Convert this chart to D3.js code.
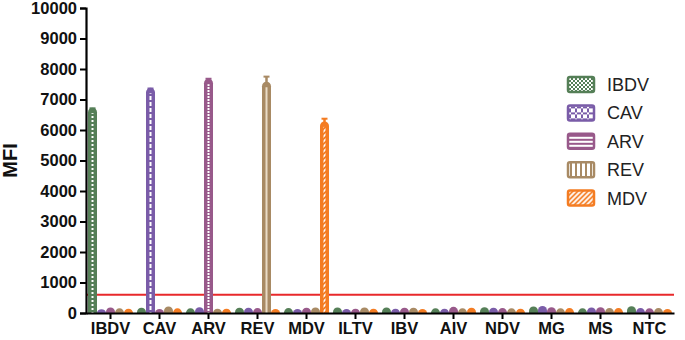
<!DOCTYPE html>
<html>
<head>
<meta charset="utf-8">
<script src="https://cdn.jsdelivr.net/npm/d3@7"></script>
<style>
  body { margin: 0; background: #fff; }
  text { font-family: "Liberation Sans", Arial, sans-serif; }
</style>
</head>
<body>
<div id="chart"></div>
<script>
const groups = ["IBDV", "CAV", "ARV", "REV", "MDV", "ILTV", "IBV", "AIV", "NDV", "MG", "MS", "NTC"];
const series = ["IBDV", "CAV", "ARV", "REV", "MDV"];

// mean MFI per sample group, one array per detection bead
const ibdvVals = [6650, 90, 70, 90, 80, 100, 100, 70, 110, 130, 70, 140];
const cavVals  = [40, 7300, 110, 90, 50, 50, 60, 60, 90, 150, 100, 80];
const arvVals  = [100, 50, 7600, 80, 90, 60, 90, 120, 80, 110, 110, 70];
const revVals  = [70, 130, 60, 7500, 100, 100, 90, 70, 70, 70, 80, 80];
const mdvVals  = [60, 70, 60, 50, 6200, 60, 50, 90, 60, 80, 80, 50];
const errVals  = {IBDV: 60, CAV: 60, ARV: 80, REV: 250, MDV: 170};
const cutoff = 600;
const yTicks = [0, 1000, 2000, 3000, 4000, 5000, 6000, 7000, 8000, 9000, 10000];

const values = {IBDV: ibdvVals, CAV: cavVals, ARV: arvVals, REV: revVals, MDV: mdvVals};
const colors = {IBDV: "#557f57", CAV: "#7a5ca8", ARV: "#98598a", REV: "#a88a64", MDV: "#f47c22"};

const width = 685, height = 340;
const margin = {left: 86, right: 11, top: 8, bottom: 27};

const svg = d3.select("#chart").append("svg")
    .attr("width", width)
    .attr("height", height);

const defs = svg.append("defs");

// fill patterns
const pat = (id, w, h, color, draw) => {
    const p = defs.append("pattern")
        .attr("id", id)
        .attr("patternUnits", "userSpaceOnUse")
        .attr("width", w).attr("height", h);
    p.append("rect").attr("width", w).attr("height", h).attr("fill", color);
    draw(p);
};
pat("p-IBDV", 2, 4, colors.IBDV, p => {
    p.append("rect").attr("width", 2).attr("height", 2).attr("fill", "#fff");
});
pat("p-CAV", 6, 6, colors.CAV, p => {
    p.append("rect").attr("x", 0).attr("y", 0).attr("width", 6).attr("height", 4).attr("fill", "#fff");
});
pat("p-ARV", 4, 3, colors.ARV, p => {
    p.append("rect").attr("width", 4).attr("height", 2).attr("fill", "#fff");
});
pat("p-REV", 6, 4, colors.REV, p => {
    p.append("rect").attr("width", 6).attr("height", 4).attr("fill", "#e9dcc7");
});
pat("p-MDV", 5, 5, colors.MDV, p => {
    p.append("path").attr("d", "M-1,6 L6,-1 M4,6 L6,4 M-1,1 L1,-1")
        .attr("stroke", "#fff").attr("stroke-width", 1.8);
});

// legend patterns (larger)
pat("l-IBDV", 4, 4, colors.IBDV, p => {
    p.append("rect").attr("width", 2).attr("height", 2).attr("fill", "#fff");
    p.append("rect").attr("x", 2).attr("y", 2).attr("width", 2).attr("height", 2).attr("fill", "#fff");
});
pat("l-CAV", 6, 6, colors.CAV, p => {
    p.append("rect").attr("x", 0).attr("y", 0).attr("width", 2).attr("height", 2).attr("fill", "#fff");
    p.append("rect").attr("x", 4).attr("y", 0).attr("width", 2).attr("height", 2).attr("fill", "#fff");
    p.append("rect").attr("x", 2).attr("y", 2).attr("width", 2).attr("height", 2).attr("fill", "#fff");
    p.append("rect").attr("x", 0).attr("y", 4).attr("width", 2).attr("height", 2).attr("fill", "#fff");
    p.append("rect").attr("x", 4).attr("y", 4).attr("width", 2).attr("height", 2).attr("fill", "#fff");
});
pat("l-ARV", 4, 4, colors.ARV, p => {
    p.append("rect").attr("width", 4).attr("height", 2).attr("fill", "#fff");
});
pat("l-REV", 5, 4, colors.REV, p => {
    p.append("rect").attr("width", 3).attr("height", 4).attr("fill", "#fff");
});
pat("l-MDV", 5, 5, colors.MDV, p => {
    p.append("path").attr("d", "M-1,6 L6,-1 M4,6 L6,4 M-1,1 L1,-1")
        .attr("stroke", "#fff").attr("stroke-width", 1.8);
});

const x0 = d3.scaleBand()
    .domain(groups)
    .range([margin.left, width - margin.right]);

const x1 = d3.scaleBand()
    .domain(series)
    .range([2, x0.bandwidth() - 2]);

const y = d3.scaleLinear()
    .domain([0, 10000])
    .range([height - margin.bottom, margin.top]);

const base = y(0);

// cut-off line
svg.append("line")
    .attr("x1", margin.left).attr("x2", width - margin.right)
    .attr("y1", y(cutoff)).attr("y2", y(cutoff))
    .attr("stroke", "#e8292b")
    .attr("stroke-width", 2);

const bars = [];
groups.forEach((g, i) => {
    series.forEach(s => {
        bars.push({group: g, series: s, value: values[s][i], own: g === s});
    });
});

const barW = x1.bandwidth();

const barPath = (x, top, w, bottom) => {
    const r = Math.min(w / 2, bottom - top);
    return `M${x},${bottom} L${x},${top + r} A${w / 2},${r} 0 0 1 ${x + w},${top + r} L${x + w},${bottom} Z`;
};

const gBars = svg.append("g");

gBars.selectAll(".bar")
    .data(bars)
    .join("path")
    .attr("class", "bar")
    .attr("d", d => {
        const bx = x0(d.group) + x1(d.series);
        const top = y(d.value) - 2.5;
        return barPath(bx, top, barW, base);
    })
    .attr("fill", d => colors[d.series]);

// inner pattern strip on the tall bars
gBars.selectAll(".inner")
    .data(bars.filter(d => d.value > 500))
    .join("rect")
    .attr("class", "inner")
    .attr("x", d => x0(d.group) + x1(d.series) + barW / 2 - 1)
    .attr("y", d => y(d.value) + 3)
    .attr("width", 2)
    .attr("height", d => base - y(d.value) - 3)
    .attr("fill", d => `url(#p-${d.series})`);

// error bars
const big = bars.filter(d => d.own);
gBars.selectAll(".err")
    .data(big)
    .join("line")
    .attr("class", "err")
    .attr("x1", d => x0(d.group) + x1(d.series) + barW / 2)
    .attr("x2", d => x0(d.group) + x1(d.series) + barW / 2)
    .attr("y1", d => y(d.value))
    .attr("y2", d => y(d.value + errVals[d.series]))
    .attr("stroke", d => colors[d.series])
    .attr("stroke-width", 2.5);
gBars.selectAll(".cap")
    .data(big)
    .join("line")
    .attr("class", "cap")
    .attr("x1", d => x0(d.group) + x1(d.series) + barW / 2 - 3)
    .attr("x2", d => x0(d.group) + x1(d.series) + barW / 2 + 3)
    .attr("y1", d => y(d.value + errVals[d.series]))
    .attr("y2", d => y(d.value + errVals[d.series]))
    .attr("stroke", d => colors[d.series])
    .attr("stroke-width", 2);

// axes
const yAxis = svg.append("g")
    .attr("transform", `translate(${margin.left},0)`)
    .call(d3.axisLeft(y).tickValues(yTicks).tickFormat(d3.format("d")).tickSize(6).tickPadding(3));
yAxis.select(".domain").attr("stroke-width", 2.2);
yAxis.selectAll(".tick line").attr("stroke-width", 2);
yAxis.selectAll("text")
    .attr("font-size", 16.5)
    .attr("font-weight", "bold")
    .attr("fill", "#111")
    .style("font-family", "'Liberation Sans', Arial, sans-serif");

const xAxis = svg.append("g")
    .attr("transform", `translate(0,${base})`)
    .call(d3.axisBottom(x0).tickSize(6).tickSizeOuter(0).tickPadding(3));
xAxis.select(".domain").attr("stroke-width", 2.2);
xAxis.selectAll(".tick line").attr("stroke-width", 2);
xAxis.selectAll("text")
    .attr("font-size", 16.5)
    .attr("font-weight", "bold")
    .attr("fill", "#111")
    .style("font-family", "'Liberation Sans', Arial, sans-serif");

svg.append("text")
    .attr("transform", `translate(17,${(margin.top + base) / 2}) rotate(-90)`)
    .attr("text-anchor", "middle")
    .attr("font-size", 20)
    .attr("font-weight", "bold")
    .attr("fill", "#111")
    .text("MFI");

// legend
const legend = svg.append("g")
    .attr("transform", "translate(567,76)");
const items = legend.selectAll("g")
    .data(series)
    .join("g")
    .attr("transform", (d, i) => `translate(0,${i * 28.4})`);
items.append("rect")
    .attr("x", 1).attr("y", 1)
    .attr("width", 26).attr("height", 15)
    .attr("rx", 2)
    .attr("fill", d => `url(#l-${d})`)
    .attr("stroke", d => colors[d])
    .attr("stroke-width", 2.5);
items.append("text")
    .attr("x", 40)
    .attr("y", 15)
    .attr("font-size", 18)
    .attr("fill", "#222")
    .text(d => d);
</script>
</body>
</html>
